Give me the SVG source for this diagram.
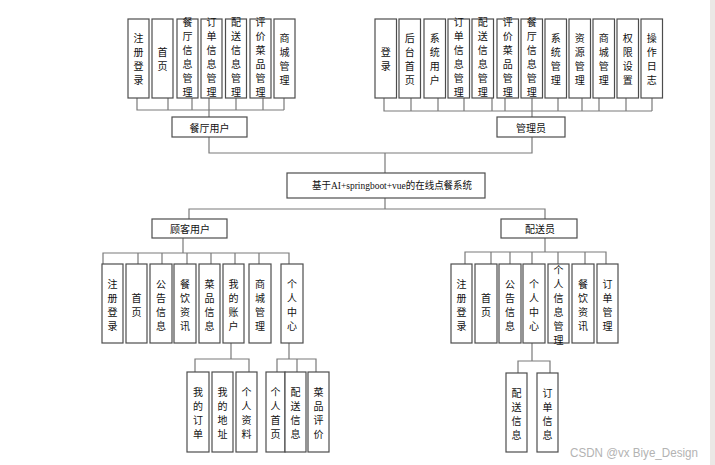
<svg xmlns="http://www.w3.org/2000/svg" width="715" height="465" viewBox="0 0 715 465">
<style>
.b{fill:#fff;stroke:#4d4d4d;stroke-width:1.2}
.c{fill:none;stroke:#7a7a7a;stroke-width:1.2}
text{font-family:"Noto Sans CJK SC","Liberation Sans",sans-serif;font-size:10px;fill:#111;text-anchor:middle;dominant-baseline:central}
.t{font-family:"Liberation Serif","Noto Sans CJK SC",serif;font-size:10.5px}
.w{font-family:"Liberation Sans",sans-serif;font-size:12px;fill:#b3b3b3;text-anchor:start;dominant-baseline:auto}
</style>
<rect width="715" height="465" fill="#fff"/>
<rect x="710" y="0" width="5" height="465" fill="#ebe8e6"/>

<g id="connectors" class="c">
<path d="M137 98V110H284M168 98V110M192 98V110M209 98V117M236 98V110M263 98V110M284 98V110"/>
<path d="M384 98V111H652M411 98V111M438 98V111M464 98V111M492 98V111M505 98V111M532 98V117M558 98V111M582 98V111M599 98V111M626 98V111M652 98V111"/>
<path d="M209 137V153H532V137M385 153V173"/>
<path d="M385 198V209M189 219V209H545V219"/>
<path d="M183 238V253M103 264V253H289V264M138 253V264M162 253V264M187 253V264M211 253V264M235 253V264M259 253V264"/>
<path d="M231 343V359M195 372V359H249V372"/>
<path d="M289 343V359M277 372V359H316V372M297 359V372"/>
<path d="M545 238V252M465 264V252H606V264M491 252V264M510 252V264M532 252V264M558 252V264M585 252V264"/>
<path d="M532 343V361M518 373V361H550V373"/>
</g>

<g id="n-canting"><rect class="b" x="172" y="117" width="75" height="20"/><text x="209.5" y="127">餐厅用户</text></g>
<g id="n-admin"><rect class="b" x="497" y="117" width="68" height="20"/><text x="531" y="127">管理员</text></g>
<g id="n-root"><rect class="b" x="287" y="173" width="198" height="25"/><text class="t" x="392" y="185.5" textLength="160" lengthAdjust="spacingAndGlyphs">基于AI+springboot+vue的在线点餐系统</text></g>
<g id="n-customer"><rect class="b" x="152" y="219" width="75" height="19"/><text x="190" y="228.5">顾客用户</text></g>
<g id="n-delivery"><rect class="b" x="501" y="219" width="76" height="19"/><text x="540" y="228.5">配送员</text></g>

<g id="n-tl1"><rect class="b" x="128" y="19" width="21" height="79"/><text><tspan x="138.5" y="37">注</tspan><tspan x="138.5" y="51">册</tspan><tspan x="138.5" y="65">登</tspan><tspan x="138.5" y="79">录</tspan></text></g>
<g id="n-tl2"><rect class="b" x="152" y="19" width="21" height="79"/><text><tspan x="162.5" y="51">首</tspan><tspan x="162.5" y="65">页</tspan></text></g>
<g id="n-tl3"><rect class="b" x="177" y="19" width="21" height="79"/><text><tspan x="187.5" y="21">餐</tspan><tspan x="187.5" y="35">厅</tspan><tspan x="187.5" y="49">信</tspan><tspan x="187.5" y="63">息</tspan><tspan x="187.5" y="77">管</tspan><tspan x="187.5" y="91">理</tspan></text></g>
<g id="n-tl4"><rect class="b" x="201" y="19" width="21" height="79"/><text><tspan x="211.5" y="21">订</tspan><tspan x="211.5" y="35">单</tspan><tspan x="211.5" y="49">信</tspan><tspan x="211.5" y="63">息</tspan><tspan x="211.5" y="77">管</tspan><tspan x="211.5" y="91">理</tspan></text></g>
<g id="n-tl5"><rect class="b" x="225.5" y="19" width="21" height="79"/><text><tspan x="236" y="21">配</tspan><tspan x="236" y="35">送</tspan><tspan x="236" y="49">信</tspan><tspan x="236" y="63">息</tspan><tspan x="236" y="77">管</tspan><tspan x="236" y="91">理</tspan></text></g>
<g id="n-tl6"><rect class="b" x="250" y="19" width="21" height="79"/><text><tspan x="260.5" y="21">评</tspan><tspan x="260.5" y="35">价</tspan><tspan x="260.5" y="49">菜</tspan><tspan x="260.5" y="63">品</tspan><tspan x="260.5" y="77">管</tspan><tspan x="260.5" y="91">理</tspan></text></g>
<g id="n-tl7"><rect class="b" x="274" y="19" width="21" height="79"/><text><tspan x="284.5" y="37">商</tspan><tspan x="284.5" y="51">城</tspan><tspan x="284.5" y="65">管</tspan><tspan x="284.5" y="79">理</tspan></text></g>

<g id="n-tr1"><rect class="b" x="375" y="19" width="21.5" height="79"/><text><tspan x="385.75" y="51">登</tspan><tspan x="385.75" y="65">录</tspan></text></g>
<g id="n-tr2"><rect class="b" x="399" y="19" width="21.5" height="79"/><text><tspan x="409.75" y="37">后</tspan><tspan x="409.75" y="51">台</tspan><tspan x="409.75" y="65">首</tspan><tspan x="409.75" y="79">页</tspan></text></g>
<g id="n-tr3"><rect class="b" x="424" y="19" width="21.5" height="79"/><text><tspan x="434.75" y="37">系</tspan><tspan x="434.75" y="51">统</tspan><tspan x="434.75" y="65">用</tspan><tspan x="434.75" y="79">户</tspan></text></g>
<g id="n-tr4"><rect class="b" x="448" y="19" width="21.5" height="79"/><text><tspan x="458.75" y="21">订</tspan><tspan x="458.75" y="35">单</tspan><tspan x="458.75" y="49">信</tspan><tspan x="458.75" y="63">息</tspan><tspan x="458.75" y="77">管</tspan><tspan x="458.75" y="91">理</tspan></text></g>
<g id="n-tr5"><rect class="b" x="472" y="19" width="21.5" height="79"/><text><tspan x="482.75" y="21">配</tspan><tspan x="482.75" y="35">送</tspan><tspan x="482.75" y="49">信</tspan><tspan x="482.75" y="63">息</tspan><tspan x="482.75" y="77">管</tspan><tspan x="482.75" y="91">理</tspan></text></g>
<g id="n-tr6"><rect class="b" x="497" y="19" width="21.5" height="79"/><text><tspan x="507.75" y="21">评</tspan><tspan x="507.75" y="35">价</tspan><tspan x="507.75" y="49">菜</tspan><tspan x="507.75" y="63">品</tspan><tspan x="507.75" y="77">管</tspan><tspan x="507.75" y="91">理</tspan></text></g>
<g id="n-tr7"><rect class="b" x="521" y="19" width="21.5" height="79"/><text><tspan x="531.75" y="21">餐</tspan><tspan x="531.75" y="35">厅</tspan><tspan x="531.75" y="49">信</tspan><tspan x="531.75" y="63">息</tspan><tspan x="531.75" y="77">管</tspan><tspan x="531.75" y="91">理</tspan></text></g>
<g id="n-tr8"><rect class="b" x="545" y="19" width="21.5" height="79"/><text><tspan x="555.75" y="37">系</tspan><tspan x="555.75" y="51">统</tspan><tspan x="555.75" y="65">管</tspan><tspan x="555.75" y="79">理</tspan></text></g>
<g id="n-tr9"><rect class="b" x="569" y="19" width="21.5" height="79"/><text><tspan x="579.75" y="37">资</tspan><tspan x="579.75" y="51">源</tspan><tspan x="579.75" y="65">管</tspan><tspan x="579.75" y="79">理</tspan></text></g>
<g id="n-tr10"><rect class="b" x="593" y="19" width="21.5" height="79"/><text><tspan x="603.75" y="37">商</tspan><tspan x="603.75" y="51">城</tspan><tspan x="603.75" y="65">管</tspan><tspan x="603.75" y="79">理</tspan></text></g>
<g id="n-tr11"><rect class="b" x="617" y="19" width="21.5" height="79"/><text><tspan x="627.75" y="37">权</tspan><tspan x="627.75" y="51">限</tspan><tspan x="627.75" y="65">设</tspan><tspan x="627.75" y="79">置</tspan></text></g>
<g id="n-tr12"><rect class="b" x="641" y="19" width="21.5" height="79"/><text><tspan x="651.75" y="37">操</tspan><tspan x="651.75" y="51">作</tspan><tspan x="651.75" y="65">日</tspan><tspan x="651.75" y="79">志</tspan></text></g>

<g id="n-c1"><rect class="b" x="102" y="264" width="21" height="79"/><text><tspan x="112.5" y="282.5">注</tspan><tspan x="112.5" y="296.5">册</tspan><tspan x="112.5" y="310.5">登</tspan><tspan x="112.5" y="324.5">录</tspan></text></g>
<g id="n-c2"><rect class="b" x="126" y="264" width="21" height="79"/><text><tspan x="136.5" y="296.5">首</tspan><tspan x="136.5" y="310.5">页</tspan></text></g>
<g id="n-c3"><rect class="b" x="150" y="264" width="22" height="79"/><text><tspan x="161" y="282.5">公</tspan><tspan x="161" y="296.5">告</tspan><tspan x="161" y="310.5">信</tspan><tspan x="161" y="324.5">息</tspan></text></g>
<g id="n-c4"><rect class="b" x="174" y="264" width="22" height="79"/><text><tspan x="185" y="282.5">餐</tspan><tspan x="185" y="296.5">饮</tspan><tspan x="185" y="310.5">资</tspan><tspan x="185" y="324.5">讯</tspan></text></g>
<g id="n-c5"><rect class="b" x="199" y="264" width="21" height="79"/><text><tspan x="209.5" y="282.5">菜</tspan><tspan x="209.5" y="296.5">品</tspan><tspan x="209.5" y="310.5">信</tspan><tspan x="209.5" y="324.5">息</tspan></text></g>
<g id="n-c6"><rect class="b" x="223" y="264" width="21" height="79"/><text><tspan x="233.5" y="282.5">我</tspan><tspan x="233.5" y="296.5">的</tspan><tspan x="233.5" y="310.5">账</tspan><tspan x="233.5" y="324.5">户</tspan></text></g>
<g id="n-c7"><rect class="b" x="249" y="264" width="22" height="79"/><text><tspan x="260" y="282.5">商</tspan><tspan x="260" y="296.5">城</tspan><tspan x="260" y="310.5">管</tspan><tspan x="260" y="324.5">理</tspan></text></g>
<g id="n-c8"><rect class="b" x="281" y="264" width="22" height="79"/><text><tspan x="292" y="282.5">个</tspan><tspan x="292" y="296.5">人</tspan><tspan x="292" y="310.5">中</tspan><tspan x="292" y="324.5">心</tspan></text></g>

<g id="n-c6a"><rect class="b" x="187" y="372" width="22" height="80"/><text><tspan x="198" y="391">我</tspan><tspan x="198" y="405">的</tspan><tspan x="198" y="419">订</tspan><tspan x="198" y="433">单</tspan></text></g>
<g id="n-c6b"><rect class="b" x="212" y="372" width="21" height="80"/><text><tspan x="222.5" y="391">我</tspan><tspan x="222.5" y="405">的</tspan><tspan x="222.5" y="419">地</tspan><tspan x="222.5" y="433">址</tspan></text></g>
<g id="n-c6c"><rect class="b" x="236" y="372" width="21" height="80"/><text><tspan x="246.5" y="391">个</tspan><tspan x="246.5" y="405">人</tspan><tspan x="246.5" y="419">资</tspan><tspan x="246.5" y="433">料</tspan></text></g>
<g id="n-c8a"><rect class="b" x="266" y="372" width="19" height="80"/><text><tspan x="275.5" y="391">个</tspan><tspan x="275.5" y="405">人</tspan><tspan x="275.5" y="419">首</tspan><tspan x="275.5" y="433">页</tspan></text></g>
<g id="n-c8b"><rect class="b" x="285" y="372" width="21" height="80"/><text><tspan x="295.5" y="391">配</tspan><tspan x="295.5" y="405">送</tspan><tspan x="295.5" y="419">信</tspan><tspan x="295.5" y="433">息</tspan></text></g>
<g id="n-c8c"><rect class="b" x="308" y="372" width="21" height="80"/><text><tspan x="318.5" y="391">菜</tspan><tspan x="318.5" y="405">品</tspan><tspan x="318.5" y="419">评</tspan><tspan x="318.5" y="433">价</tspan></text></g>

<g id="n-d1"><rect class="b" x="451" y="264" width="21" height="79"/><text><tspan x="461.5" y="282.5">注</tspan><tspan x="461.5" y="296.5">册</tspan><tspan x="461.5" y="310.5">登</tspan><tspan x="461.5" y="324.5">录</tspan></text></g>
<g id="n-d2"><rect class="b" x="475" y="264" width="22" height="79"/><text><tspan x="486" y="296.5">首</tspan><tspan x="486" y="310.5">页</tspan></text></g>
<g id="n-d3"><rect class="b" x="499" y="264" width="22" height="79"/><text><tspan x="510" y="282.5">公</tspan><tspan x="510" y="296.5">告</tspan><tspan x="510" y="310.5">信</tspan><tspan x="510" y="324.5">息</tspan></text></g>
<g id="n-d4"><rect class="b" x="523" y="264" width="22" height="79"/><text><tspan x="534" y="282.5">个</tspan><tspan x="534" y="296.5">人</tspan><tspan x="534" y="310.5">中</tspan><tspan x="534" y="324.5">心</tspan></text></g>
<g id="n-d5"><rect class="b" x="548" y="264" width="21" height="79"/><text><tspan x="558.5" y="268.5">个</tspan><tspan x="558.5" y="282.5">人</tspan><tspan x="558.5" y="296.5">信</tspan><tspan x="558.5" y="310.5">息</tspan><tspan x="558.5" y="324.5">管</tspan><tspan x="558.5" y="338.5">理</tspan></text></g>
<g id="n-d6"><rect class="b" x="572" y="264" width="22" height="79"/><text><tspan x="583" y="282.5">餐</tspan><tspan x="583" y="296.5">饮</tspan><tspan x="583" y="310.5">资</tspan><tspan x="583" y="324.5">讯</tspan></text></g>
<g id="n-d7"><rect class="b" x="597" y="264" width="21" height="79"/><text><tspan x="607.5" y="282.5">订</tspan><tspan x="607.5" y="296.5">单</tspan><tspan x="607.5" y="310.5">管</tspan><tspan x="607.5" y="324.5">理</tspan></text></g>
<g id="n-d4a"><rect class="b" x="506" y="373" width="21" height="79"/><text><tspan x="516.5" y="391.5">配</tspan><tspan x="516.5" y="405.5">送</tspan><tspan x="516.5" y="419.5">信</tspan><tspan x="516.5" y="433.5">息</tspan></text></g>
<g id="n-d4b"><rect class="b" x="537" y="373" width="21" height="79"/><text><tspan x="547.5" y="391.5">订</tspan><tspan x="547.5" y="405.5">单</tspan><tspan x="547.5" y="419.5">信</tspan><tspan x="547.5" y="433.5">息</tspan></text></g>

<text class="w" x="570" y="457" textLength="128" lengthAdjust="spacingAndGlyphs">CSDN @vx Biye_Design</text>
</svg>
